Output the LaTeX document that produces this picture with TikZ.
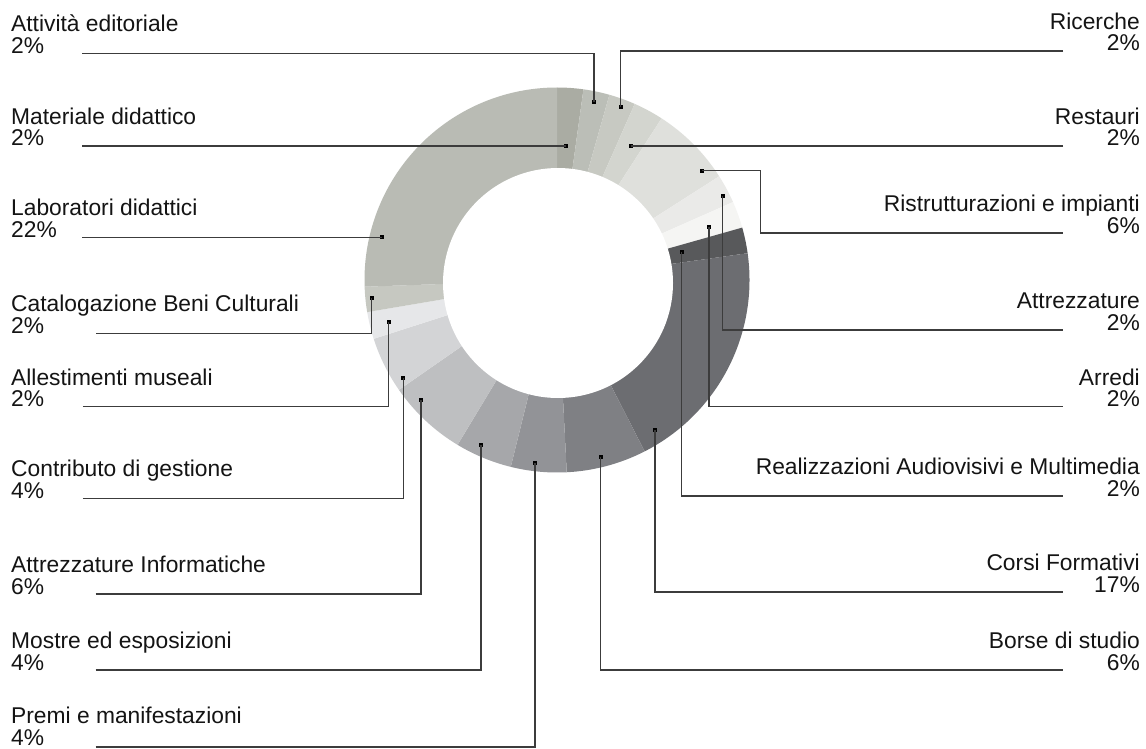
\documentclass[tikz,border=0pt]{standalone}
\usepackage{fontspec}
\setmainfont{Liberation Sans}
\definecolor{cLab}{HTML}{B9BBB4}
\definecolor{cMat}{HTML}{AAACA3}
\definecolor{cAtt}{HTML}{BBBEB7}
\definecolor{cRic}{HTML}{C7C9C2}
\definecolor{cRes}{HTML}{D3D5CF}
\definecolor{cRis}{HTML}{DFE0DC}
\definecolor{cAtz}{HTML}{EAEAE8}
\definecolor{cArr}{HTML}{F5F5F3}
\definecolor{cRea}{HTML}{58595B}
\definecolor{cCor}{HTML}{6C6D71}
\definecolor{cBor}{HTML}{7F8084}
\definecolor{cPre}{HTML}{929397}
\definecolor{cMos}{HTML}{A6A7AA}
\definecolor{cInf}{HTML}{BEBFC1}
\definecolor{cCon}{HTML}{D3D4D6}
\definecolor{cAll}{HTML}{E6E7E9}
\definecolor{cCat}{HTML}{C6C8C1}
\definecolor{cLine}{HTML}{3C3C3C}
\newcommand\lblfont{\fontsize{22.8}{21.7}\selectfont}
\newcommand\ringslice[3]{\fill[#3] (557,-280) -- ++(#1:192.5pt) arc[start angle=#1, end angle=#2, radius=192.5pt] -- cycle;}
\begin{document}
\begin{tikzpicture}[x=1pt,y=1pt,
  lblL/.style={font=\lblfont, inner sep=0pt, anchor=base west, text=black!92},
  lblR/.style={font=\lblfont, inner sep=0pt, anchor=base east, text=black!92},
  dot/.style={rectangle, fill=black, inner sep=0pt, minimum size=4pt},
  leader/.style={draw=cLine, line width=1.1pt}]
\useasboundingbox (0,0) rectangle (1146,-749);
\fill[white] (0,0) rectangle (1146,-749);
% ring
\ringslice{90}{82.1}{cMat}
\ringslice{82.1}{74.2}{cAtt}
\ringslice{74.2}{66.2}{cRic}
\ringslice{66.2}{57.1}{cRes}
\ringslice{57.1}{32.6}{cRis}
\ringslice{32.6}{23.9}{cAtz}
\ringslice{23.9}{15.8}{cArr}
\ringslice{15.8}{8}{cRea}
\ringslice{8}{-62.9}{cCor}
\ringslice{-62.9}{-87.1}{cBor}
\ringslice{-87.1}{-103.9}{cPre}
\ringslice{-103.9}{-121.1}{cMos}
\ringslice{-121.1}{-145.2}{cInf}
\ringslice{-145.2}{-162.2}{cCon}
\ringslice{-162.2}{-170.4}{cAll}
\ringslice{-170.4}{-178}{cCat}
\ringslice{-178}{-270}{cLab}
\fill[white] (558,-283) circle[radius=115pt];
% left labels
\node[lblL] (tAtt) at (11,-31.7) {Attività editoriale};
\node[lblL] (pAtt) at (11,-53.3) {2\%};
\node[lblL] (tMat) at (11,-124.3) {Materiale didattico};
\node[lblL] (pMat) at (11,-146) {2\%};
\node[lblL] (tLab) at (11,-215.6) {Laboratori didattici};
\node[lblL] (pLab) at (11,-237.3) {22\%};
\node[lblL] (tCat) at (11,-311.6) {Catalogazione Beni Culturali};
\node[lblL] (pCat) at (11,-333.3) {2\%};
\node[lblL] (tAll) at (11,-385) {Allestimenti museali};
\node[lblL] (pAll) at (11,-406.7) {2\%};
\node[lblL] (tCon) at (11,-476.6) {Contributo di gestione};
\node[lblL] (pCon) at (11,-498.3) {4\%};
\node[lblL] (tInf) at (11,-572.3) {Attrezzature Informatiche};
\node[lblL] (pInf) at (11,-594) {6\%};
\node[lblL] (tMos) at (11,-648.3) {Mostre ed esposizioni};
\node[lblL] (pMos) at (11,-670) {4\%};
\node[lblL] (tPre) at (11,-723.8) {Premi e manifestazioni};
\node[lblL] (pPre) at (11,-745.5) {4\%};
% right labels
\node[lblR] (tRic) at (1140,-30) {Ricerche};
\node[lblR] (pRic) at (1140,-51) {2\%};
\node[lblR] (tRes) at (1140,-124.3) {Restauri};
\node[lblR] (pRes) at (1140,-146) {2\%};
\node[lblR] (tRis) at (1140,-211.3) {Ristrutturazioni e impianti};
\node[lblR] (pRis) at (1140,-233) {6\%};
\node[lblR] (tAtz) at (1140,-308.3) {Attrezzature};
\node[lblR] (pAtz) at (1140,-330) {2\%};
\node[lblR] (tArr) at (1140,-385) {Arredi};
\node[lblR] (pArr) at (1140,-406.7) {2\%};
\node[lblR] (tRea) at (1140,-474.3) {Realizzazioni Audiovisivi e Multimedia};
\node[lblR] (pRea) at (1140,-496) {2\%};
\node[lblR] (tCor) at (1140,-570.3) {Corsi Formativi};
\node[lblR] (pCor) at (1140,-592) {17\%};
\node[lblR] (tBor) at (1140,-648.3) {Borse di studio};
\node[lblR] (pBor) at (1140,-670) {6\%};
% leader ends
\coordinate (eAtt) at (82.3,-53.3);
\coordinate (eMat) at (82.3,-146);
\coordinate (eLab) at (82.3,-237.3);
\coordinate (eCat) at (96,-333.3);
\coordinate (eAll) at (82.9,-406.7);
\coordinate (eCon) at (82.9,-498.3);
\coordinate (eInf) at (95.7,-594);
\coordinate (eMos) at (95.7,-670);
\coordinate (ePre) at (95.7,-747);
\coordinate (eRic) at (1063,-51);
\coordinate (eRes) at (1063,-146);
\coordinate (eRis) at (1063,-233);
\coordinate (bRis) at (760.7,-170.7);
\coordinate (eAtz) at (1063,-330);
\coordinate (eArr) at (1063,-406.7);
\coordinate (eRea) at (1063,-496);
\coordinate (eCor) at (1063,-592);
\coordinate (eBor) at (1063,-670);
% dots
\node[dot] (dAtt) at (594,-101.7) {};
\node[dot] (dMat) at (566,-146) {};
\node[dot] (dLab) at (381.7,-237.3) {};
\node[dot] (dCat) at (371.7,-297.7) {};
\node[dot] (dAll) at (388.6,-322) {};
\node[dot] (dCon) at (403.3,-378) {};
\node[dot] (dInf) at (421,-400) {};
\node[dot] (dMos) at (481,-445) {};
\node[dot] (dPre) at (535,-462.7) {};
\node[dot] (dRic) at (620.7,-106.7) {};
\node[dot] (dRes) at (630.7,-146) {};
\node[dot] (dRis) at (701.7,-170.7) {};
\node[dot] (dAtz) at (722.7,-195.7) {};
\node[dot] (dArr) at (709,-226.7) {};
\node[dot] (dRea) at (681.7,-251.7) {};
\node[dot] (dCor) at (655,-430) {};
\node[dot] (dBor) at (600.7,-456.7) {};
% leaders
\draw[leader] (eAtt) -| (dAtt.center);
\draw[leader] (eMat) -- (dMat.center);
\draw[leader] (eLab) -- (dLab.center);
\draw[leader] (eCat) -| (dCat.center);
\draw[leader] (eAll) -| (dAll.center);
\draw[leader] (eCon) -| (dCon.center);
\draw[leader] (eInf) -| (dInf.center);
\draw[leader] (eMos) -| (dMos.center);
\draw[leader] (ePre) -| (dPre.center);
\draw[leader] (eRic) -| (dRic.center);
\draw[leader] (eRes) -- (dRes.center);
\draw[leader] (dRis.center) -- (bRis) |- (eRis);
\draw[leader] (dAtz.center) |- (eAtz);
\draw[leader] (dArr.center) |- (eArr);
\draw[leader] (dRea.center) |- (eRea);
\draw[leader] (dCor.center) |- (eCor);
\draw[leader] (dBor.center) |- (eBor);
\end{tikzpicture}
\end{document}
